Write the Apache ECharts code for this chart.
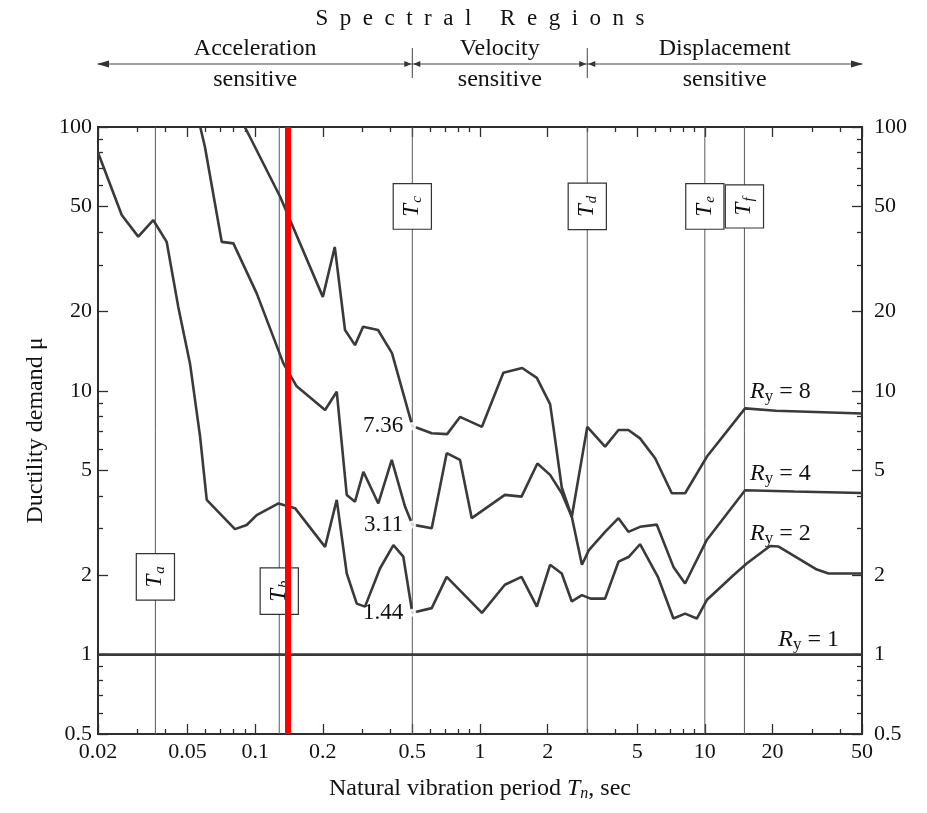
<!DOCTYPE html>
<html><head><meta charset="utf-8">
<script src="https://cdn.jsdelivr.net/npm/echarts@6/dist/echarts.min.js"></script>
<style>html,body{margin:0;padding:0;background:#fff}#c{width:927px;height:813px}</style>
</head><body><div id="c"></div>
<script>
// ---- tick values ----
const xMajor = [0.02,0.05,0.1,0.2,0.5,1,2,5,10,20,50];
const xMinor = [0.03,0.04,0.06,0.07,0.08,0.09,0.3,0.4,0.6,0.7,0.8,0.9,3,4,6,7,8,9,30,40];
const yMajor = [0.5,1,2,5,10,20,50,100];
const yMinor = [0.6,0.7,0.8,0.9,3,4,6,7,8,9,30,40,60,70,80,90];

// ---- ductility demand curves [Tn, mu] ----
const ry1 = [[0.02,1],[50,1]];
const ry2 = [[0.02,80],[0.0255,46.4],[0.0302,38.4],[0.0352,44.4],[0.0404,36.7],[0.0455,20.8],[0.0513,12.7],[0.0569,6.7],[0.0609,3.86],[0.0813,2.99],[0.0917,3.1],[0.1016,3.38],[0.127,3.74],[0.1504,3.59],[0.2046,2.56],[0.2306,3.86],[0.2555,2.03],[0.283,1.56],[0.308,1.52],[0.359,2.12],[0.412,2.6],[0.456,2.35],[0.5,1.44],[0.61,1.5],[0.711,1.97],[1.02,1.44],[1.29,1.84],[1.53,1.97],[1.79,1.52],[2.05,2.19],[2.31,2.03],[2.56,1.59],[2.84,1.68],[3.1,1.63],[3.6,1.63],[4.13,2.25],[4.6,2.35],[5.15,2.62],[6.2,1.96],[7.25,1.37],[8.17,1.43],[9.21,1.37],[10.2,1.61],[13.4,2.0],[15.4,2.22],[19.5,2.58],[21.2,2.57],[31.5,2.1],[35.5,2.03],[50,2.03]];
const ry4 = [[0.057,100],[0.0598,84],[0.071,36.7],[0.08,36.2],[0.1016,23.4],[0.1335,12.7],[0.153,10.4],[0.2046,8.46],[0.2306,9.92],[0.2555,4.03],[0.278,3.8],[0.303,4.93],[0.353,3.74],[0.405,5.47],[0.464,3.64],[0.5,3.11],[0.61,3.01],[0.711,5.8],[0.815,5.47],[0.919,3.29],[1.29,4.03],[1.53,3.97],[1.8,5.3],[2.05,4.8],[2.31,4.09],[2.56,3.33],[2.84,2.19],[3.05,2.49],[3.6,2.92],[4.13,3.29],[4.57,2.92],[5.15,3.05],[6.11,3.11],[7.25,2.15],[8.17,1.86],[10.2,2.72],[15.1,4.2],[25,4.15],[50,4.1]];
const ry8 = [[0.09,100],[0.129,54.5],[0.2,22.7],[0.226,35.1],[0.251,17],[0.278,14.9],[0.302,17.5],[0.352,17],[0.406,13.9],[0.5,7.36],[0.61,6.9],[0.714,6.85],[0.815,7.96],[1.02,7.3],[1.27,11.7],[1.54,12.2],[1.79,11.2],[2.05,8.9],[2.12,7.3],[2.31,4.3],[2.56,3.33],[3.0,7.3],[3.6,6.14],[4.13,7.1],[4.57,7.1],[5.15,6.6],[6.01,5.55],[7.13,4.09],[8.17,4.09],[10.2,5.62],[15.1,8.58],[20.7,8.4],[50,8.2]];

// ---- period boundaries & annotations ----
const periodNames = ['a','b','c','d','e','f'];
const periodValues = [0.036,0.128,0.5,3,10,15];
const periodLabelMu = [1.97,1.74,50,50,50,50];
const markedT = 0.5;
const markedMu = [7.36,3.11,1.44];
const redLineT = 0.138;
const ryNames = ['8','4','2','1'];
const ryLabelAnchor = [[15.9,9.9],[15.9,4.84],[15.9,2.87],[21.2,1.14]];
const regionNames = [['Acceleration','sensitive'],['Velocity','sensitive'],['Displacement','sensitive']];
const headerTitle = ['Spectral','Regions'];

const FONT = '"Liberation Serif", "DejaVu Serif", serif';
const INK = '#2e2e2e';
const TXT = '#111';
const CURVE = '#3a3a3a';

const chart = echarts.init(document.getElementById('c'), null, {renderer:'canvas'});

function xAx(position, values, len, showLabel, extra) {
  return Object.assign({
    type:'log', logBase:10, gridIndex:0, position, min:0.02, max:50,
    axisLine:{show:true, onZero:false, lineStyle:{color:INK, width:2}},
    axisTick:{show:true, inside:true, length:len, customValues:values, lineStyle:{color:INK, width:1.3}},
    axisLabel:{show:showLabel, customValues:values, fontFamily:FONT, fontSize:22, color:TXT, margin:7,
      formatter: v => String(+v.toPrecision(6))},
    splitLine:{show:false}, minorTick:{show:false}, minorSplitLine:{show:false}
  }, extra||{});
}
function yAx(position, values, len, showLabel, extra) {
  return Object.assign({
    type:'log', logBase:10, gridIndex:0, position, min:0.5, max:100,
    axisLine:{show:true, onZero:false, lineStyle:{color:INK, width:2}},
    axisTick:{show:true, inside:true, length:len, customValues:values, lineStyle:{color:INK, width:1.3}},
    axisLabel:{show:showLabel, customValues:values, fontFamily:FONT, fontSize:22, color:TXT, margin: position==='left'?6:12,
      formatter: v => String(+v.toPrecision(6))},
    splitLine:{show:false}, minorTick:{show:false}, minorSplitLine:{show:false}
  }, extra||{});
}

const curveStyle = {color:CURVE, width:2.6};
function curve(name, data) {
  return {name, type:'line', data, xAxisIndex:0, yAxisIndex:0, showSymbol:false, symbol:'none',
    lineStyle:curveStyle, itemStyle:{color:CURVE}, clip:true, z:3, silent:true, animation:false};
}
function periodLine(t, i) {
  return {name:'T'+periodNames[i]+' line', type:'line', xAxisIndex:0, yAxisIndex:0, showSymbol:false, symbol:'none',
    data:[[t,0.5],[t,100]], lineStyle:{color:'#5a5a5a', width:1}, z:1, silent:true, animation:false};
}
const plain = {textBorderWidth:0, textBorderColor:'transparent', textShadowBlur:0, opacity:1};
const tok = (o) => Object.assign({fontFamily:FONT, color:TXT}, plain, o);

const option = {
  animation:false,
  backgroundColor:'#fff',
  grid:{left:98, right:65, top:127, bottom:79, containLabel:false},
  xAxis:[
    xAx('bottom', xMajor, 10, true, {
      name:'Natural vibration period {i|T}{s|n}, sec', nameLocation:'middle', nameGap:41,
      nameTextStyle:{fontFamily:FONT, fontSize:24, color:TXT,
        rich:{i:tok({fontSize:24, fontStyle:'italic'}),
              s:tok({fontSize:16, fontStyle:'italic', padding:[11,0,0,0]})}}
    }),
    xAx('bottom', xMinor, 5, false),
    xAx('top', xMajor, 10, false),
    xAx('top', xMinor, 5, false)
  ],
  yAxis:[
    yAx('left', yMajor, 10, true, {
      name:'Ductility demand μ', nameLocation:'middle', nameGap:47, nameRotate:90,
      nameTextStyle:{fontFamily:FONT, fontSize:24, color:TXT}
    }),
    yAx('left', yMinor, 5, false),
    yAx('right', yMajor, 10, true),
    yAx('right', yMinor, 5, false)
  ],
  series:[
    ...periodValues.map(periodLine),
    curve('Ry=1', ry1),
    curve('Ry=2', ry2),
    curve('Ry=4', ry4),
    curve('Ry=8', ry8),
    {
      name:'periods', type:'scatter', xAxisIndex:0, yAxisIndex:0, z:4, silent:true,
      symbolSize:0,
      data: periodValues.map((t,i)=>({value:[t, periodLabelMu[i]], name:periodNames[i]})),
      label:Object.assign({show:true, position:'inside', rotate:90, color:TXT,
        formatter: p => '{t|T}{s|' + p.name + '}',
        backgroundColor:'#fff', borderColor:'#333', borderWidth:1.2, padding:[6,12,6,12],
        rich:{t:tok({fontSize:23, fontStyle:'italic'}),
              s:tok({fontSize:15, fontStyle:'italic', padding:[10,0,0,1]})}}, plain)
    },
    {
      name:'Tc values', type:'scatter', xAxisIndex:0, yAxisIndex:0, z:6, silent:true,
      symbol:'emptyCircle', symbolSize:6, itemStyle:{color:'#fff', borderColor:'#333', borderWidth:1.2},
      data: markedMu.map(m=>[markedT, m]),
      label:Object.assign({show:true, position:'left', distance:5, fontFamily:FONT, fontSize:23, color:TXT,
        formatter: p => p.value[1].toFixed(2)}, plain),
      markLine:{silent:true, symbol:['none','none'], label:{show:false},
        lineStyle:{color:'#ff0000', width:6, type:'solid'},
        data:[{xAxis:redLineT}]}
    },
    {
      name:'Ry labels', type:'scatter', xAxisIndex:0, yAxisIndex:0, z:5, silent:true,
      symbolSize:0,
      data: ryNames.map((n,i)=>({value:ryLabelAnchor[i], name:n})),
      label:Object.assign({show:true, position:'right', distance:0, color:TXT,
        formatter: p => '{r|R}{s|y}{n| = ' + p.name + '}',
        rich:{r:tok({fontSize:24, fontStyle:'italic'}),
              s:tok({fontSize:17, padding:[10,0,0,0]}),
              n:tok({fontSize:24})}}, plain)
    }
  ]
};
chart.setOption(option);

// ---- header: spectral regions (positions follow the x axis) ----
const px = t => chart.convertToPixel({xAxisIndex:0}, t);
const xs = [px(0.02), px(periodValues[2]), px(periodValues[3]), px(50)];
const yArrow = 64;
const g = [];
const txt = (x,y,text,size) => ({type:'text', x, y, silent:true,
  style:{text, font: size+'px '+FONT, fill:TXT, align:'center', verticalAlign:'middle', textAlign:'center', textVerticalAlign:'middle'}});
const spaced = headerTitle.map(w => w.split('').join('  ')).join('     ');
g.push(txt((xs[0]+xs[3])/2, 19, spaced, 23));
for (let i=0;i<3;i++){
  const cx = (xs[i]+xs[i+1])/2;
  g.push(txt(cx, 49, regionNames[i][0], 24));
  g.push(txt(cx, 80, regionNames[i][1], 24));
}
g.push({type:'line', silent:true, shape:{x1:xs[0], y1:yArrow, x2:xs[3], y2:yArrow}, style:{stroke:'#444', lineWidth:1.2}});
g.push({type:'polygon', silent:true, shape:{points:[[xs[0]-1,yArrow],[xs[0]+11,yArrow-3.5],[xs[0]+11,yArrow+3.5]]}, style:{fill:'#333'}});
g.push({type:'polygon', silent:true, shape:{points:[[xs[3]+1,yArrow],[xs[3]-11,yArrow-3.5],[xs[3]-11,yArrow+3.5]]}, style:{fill:'#333'}});
[xs[1], xs[2]].forEach(s=>{
  g.push({type:'line', silent:true, shape:{x1:s, y1:48, x2:s, y2:78}, style:{stroke:'#444', lineWidth:1}});
  g.push({type:'polygon', silent:true, shape:{points:[[s-1,yArrow],[s-8,yArrow-3],[s-8,yArrow+3]]}, style:{fill:'#333'}});
  g.push({type:'polygon', silent:true, shape:{points:[[s+1,yArrow],[s+8,yArrow-3],[s+8,yArrow+3]]}, style:{fill:'#333'}});
});
chart.setOption({graphic:g});
</script></body></html>
